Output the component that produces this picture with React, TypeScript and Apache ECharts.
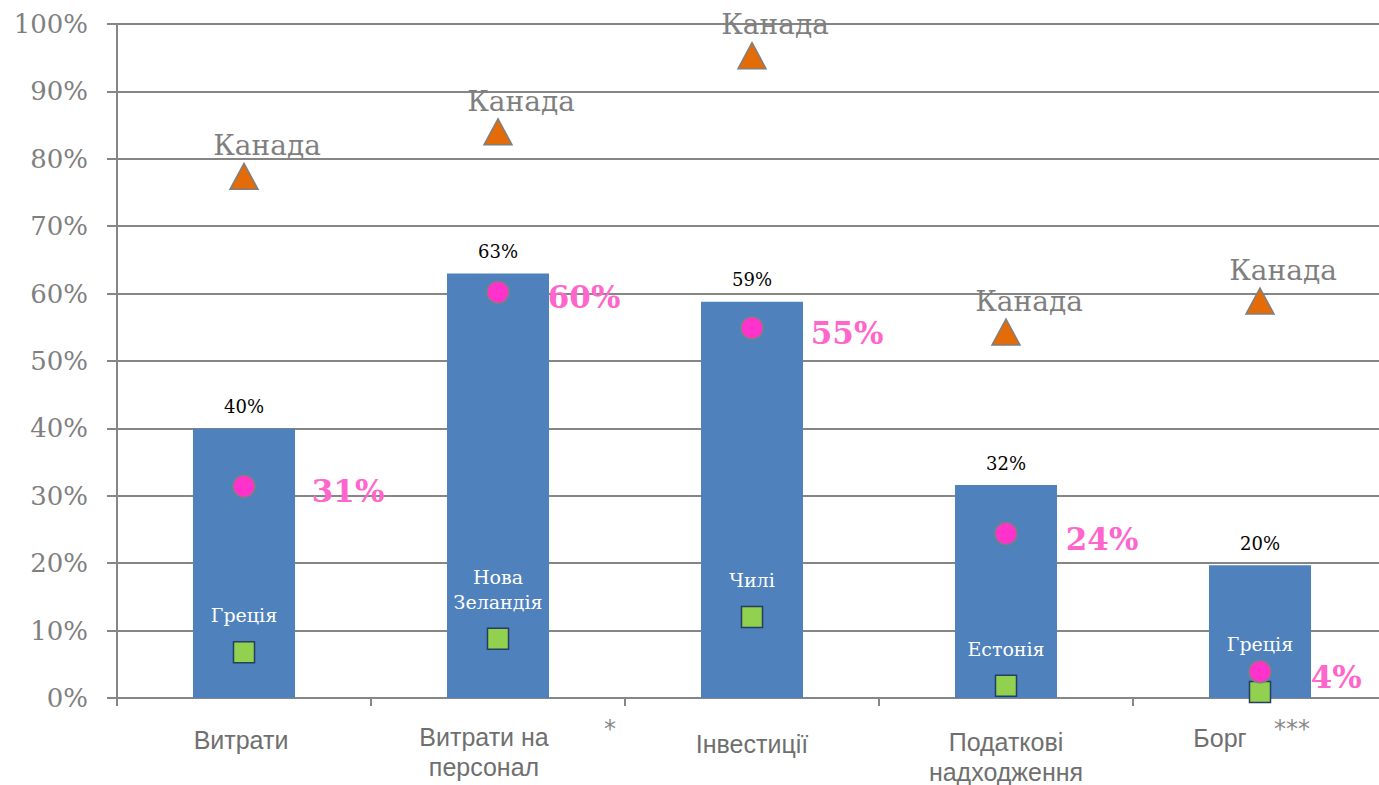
import React, { useEffect, useRef } from "react";
import * as echarts from "echarts";

const categories = ["Витрати", "Витрати на\nперсонал", "Інвестиції", "Податкові\nнадходження", "Борг"];
const barValues = [40.0, 63.0, 58.8, 31.6, 19.7];
const ukraineValues = [31.4, 60.2, 54.9, 24.4, 3.9];
const maxValues = [77.4, 84.0, 95.3, 54.3, 58.9];
const maxCountries = ["Канада", "Канада", "Канада", "Канада", "Канада"];
const minValues = [6.8, 8.8, 12.0, 1.8, 0.9];
const minCountries = ["Греція", "Нова\nЗеландія", "Чилі", "Естонія", "Греція"];
const yTicks = { min: 0, max: 100, interval: 10 };

const labelPads = [
  [3, 6, 0, 0],
  [0, 28, 0, 0],
  [7, 0, 0, 0],
  [5, 0, 0, 0],
  [1, 80, 0, 0],
];
const pinkLabelDistances = [56, 38, 47, 48, 39];
const countryLabelDistances = [13, 13, 13, 13, 24];

const SERIF = "'DejaVu Serif', Georgia, serif";
const SANS = "'Liberation Sans', Arial, sans-serif";

export default function App() {
  const ref = useRef<HTMLDivElement>(null);
  useEffect(() => {
    document.body.style.margin = "0";
    document.body.style.overflow = "hidden";
    const chart = echarts.init(ref.current!, undefined, { renderer: "svg" });
    chart.setOption({
      animation: false,
      backgroundColor: "#ffffff",
      grid: { left: 117, right: 0, top: 24, bottom: 87, containLabel: false, outerBoundsMode: "none" },
      xAxis: {
        type: "category",
        data: categories.map((c, i) => ({ value: c, textStyle: { padding: labelPads[i] } })),
        axisLine: { lineStyle: { color: "#868686", width: 2 } },
        axisTick: { show: true, length: 8, lineStyle: { color: "#868686", width: 2 } },
        axisLabel: { margin: 24, fontFamily: SANS, fontSize: 25, color: "#6f6f6f", lineHeight: 30 },
        splitLine: { show: false },
      },
      yAxis: {
        type: "value",
        min: yTicks.min,
        max: yTicks.max,
        interval: yTicks.interval,
        axisLine: { show: true, lineStyle: { color: "#868686", width: 2 } },
        axisTick: { show: true, length: 10, lineStyle: { color: "#868686", width: 2 } },
        axisLabel: { formatter: "{value}%", margin: 29, fontFamily: SERIF, fontSize: 26, color: "#7f7f7f" },
        splitLine: { lineStyle: { color: "#868686", width: 2 } },
      },
      series: [
        {
          type: "bar",
          data: barValues,
          barWidth: 102,
          itemStyle: { color: "#4f81bd" },
          label: {
            show: true,
            position: "top",
            distance: 13,
            formatter: (p: any) => Math.round(p.value) + "%",
            fontFamily: SERIF,
            fontSize: 18,
            color: "#000000",
          },
          z: 1,
        },
        {
          type: "scatter",
          data: minValues.map((v, i) => ({ value: v, label: { distance: countryLabelDistances[i] } })),
          symbol: "rect",
          symbolSize: 21,
          itemStyle: { color: "#92d050", borderColor: "#243f60", borderWidth: 1.5, opacity: 1 },
          label: {
            show: true,
            position: "top",
            distance: 13,
            formatter: (p: any) => minCountries[p.dataIndex],
            fontFamily: SERIF,
            fontSize: 19,
            lineHeight: 25,
            color: "#ffffff",
          },
          z: 3,
        },
        {
          type: "scatter",
          data: ukraineValues.map((v, i) => ({ value: v, label: { distance: pinkLabelDistances[i] } })),
          symbol: "circle",
          symbolSize: 22,
          itemStyle: { color: "#ff33cc", borderColor: "#7f7f7f", borderWidth: 1.5, opacity: 1 },
          label: {
            show: true,
            position: "right",
            distance: 48,
            offset: [0, 5],
            formatter: (p: any) => Math.round(p.value) + "%",
            fontFamily: SERIF,
            fontWeight: "bold",
            fontSize: 31,
            color: "#ff66cc",
          },
          z: 4,
        },
        {
          type: "scatter",
          data: maxValues,
          symbol: "triangle",
          symbolSize: [28, 26],
          itemStyle: { color: "#e36c09", borderColor: "#7f7f7f", borderWidth: 1.5, opacity: 1 },
          label: {
            show: true,
            position: "top",
            distance: 3,
            offset: [23, 0],
            formatter: (p: any) => maxCountries[p.dataIndex],
            fontFamily: SERIF,
            fontSize: 28,
            color: "#7f7f7f",
          },
          z: 5,
        },
      ],
      graphic: [
        { type: "text", x: 610, y: 729, style: { text: "*", fontFamily: "'DejaVu Sans', sans-serif", fontSize: 24, fill: "#8a8a8a", align: "center", verticalAlign: "middle" } },
        { type: "text", x: 1292, y: 729, style: { text: "***", fontFamily: "'DejaVu Sans', sans-serif", fontSize: 24, fill: "#8a8a8a", align: "center", verticalAlign: "middle" } },
      ],
    });
    return () => chart.dispose();
  }, []);
  return (
    <div style={{ width: 1379, height: 785, overflow: "hidden", position: "relative" }}>
      <div ref={ref} style={{ width: 1387, height: 785 }} />
    </div>
  );
}
